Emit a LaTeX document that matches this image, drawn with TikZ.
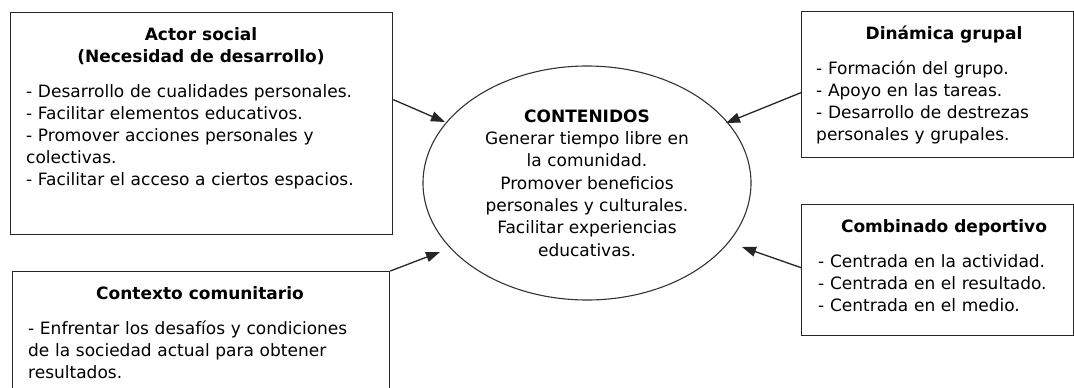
\documentclass[tikz,border=0pt]{standalone}
\usepackage{fontspec}
\setmainfont{DejaVu Sans}
\usetikzlibrary{arrows.meta,shapes.geometric}
\begin{document}
\begin{tikzpicture}[x=1pt,y=-1pt,
  box/.style={draw=black!85, line width=1.3pt, rectangle, inner sep=0pt, anchor=north west},
  ttl/.style={font=\bfseries\fontsize{17}{22}\selectfont, align=center, inner sep=0pt, anchor=base},
  body/.style={font=\fontsize{17}{22}\selectfont, align=left, inner sep=0pt, anchor=base west, text width=#1},
  arr/.style={-{Triangle[length=14pt,width=10pt]}, line width=1.3pt, draw=black!85}]
\useasboundingbox (0,0) rectangle (1074,388);
\fill[white] (0,0) rectangle (1074,388);

% boxes
\node[box, minimum width=382pt, minimum height=222pt] (actor) at (10,12) {};
\node[box, minimum width=272pt, minimum height=146pt] (dinamica) at (801,11) {};
\node[box, minimum width=272pt, minimum height=131pt] (combinado) at (801,204) {};
\node[box, minimum width=377pt, minimum height=140pt] (contexto) at (12,271) {};

% ellipse
\node[ellipse, draw=black!80, line width=1.1pt, minimum width=328pt, minimum height=234pt,
  inner sep=0pt, align=center, font=\fontsize{17}{22.3}\selectfont] (cont) at (587,183)
  {\textbf{CONTENIDOS}\\Generar tiempo libre en\\la comunidad.\\Promover beneficios\\personales y culturales.\\Facilitar experiencias\\educativas.};

% texts
\node[ttl] (actorT) at (201,62) {Actor social\\(Necesidad de desarrollo)};
\node[body=370pt] (actorB) at (26,97.5) {- Desarrollo de cualidades personales.\\- Facilitar elementos educativos.\\- Promover acciones personales y\\colectivas.\\- Facilitar el acceso a ciertos espacios.};

\node[ttl] (dinT) at (944,39) {Dinámica grupal};
\node[body=255pt] (dinB) at (816,74.5) {- Formación del grupo.\\- Apoyo en las tareas.\\- Desarrollo de destrezas\\personales y grupales.};

\node[ttl] (comT) at (944,232) {Combinado deportivo};
\node[body=255pt] (comB) at (818,267.5) {- Centrada en la actividad.\\- Centrada en el resultado.\\- Centrada en el medio.};

\node[ttl] (ctxT) at (200,299) {Contexto comunitario};
\node[body=360pt] (ctxB) at (28,334.5) {- Enfrentar los desafíos y condiciones\\de la sociedad actual para obtener\\resultados.};

% arrow tips
\coordinate (t1) at (445,122);
\coordinate (t2) at (440,252);
\coordinate (t3) at (726,123);
\coordinate (t4) at (742,247);

\draw[arr] ([yshift=24pt]actor.east) -- (t1);
\draw[arr] (contexto.north east) -- (t2);
\draw[arr] ([yshift=-8pt]dinamica.west) -- (t3);
\draw[arr] ([yshift=2.5pt]combinado.west) -- (t4);
\end{tikzpicture}
\end{document}
